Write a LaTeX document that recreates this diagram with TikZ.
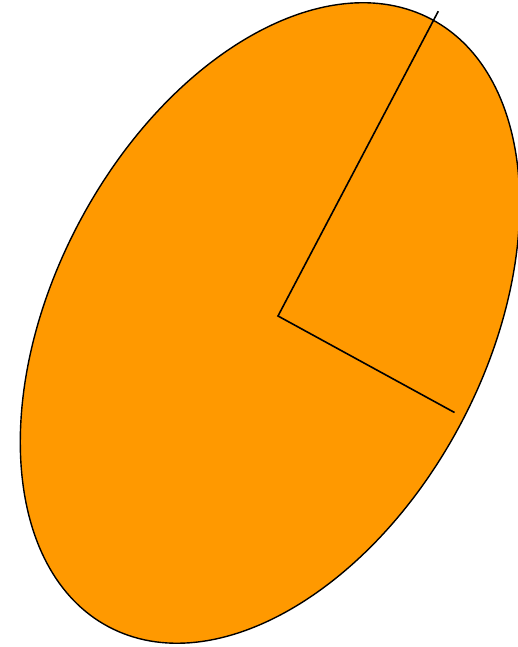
\documentclass[tikz,border=0pt]{standalone}
\usepackage{tikz}
\definecolor{slice}{HTML}{FF9900}
\definecolor{edge} {HTML}{000000}

\begin{document}
\begin{tikzpicture}[x=1pt, y=1pt,
    blob/.style={draw=edge, fill=slice, line width=1.4pt},
    spoke/.style={draw=edge, line width=1.6pt}]
      \useasboundingbox (0,0) rectangle (518,647);
      \coordinate (c) at (270,324);
      \coordinate (o) at (278,331);
      \coordinate (u) at (438.3,635.8);
      \coordinate (v) at (454.5,234.5);
      \draw[blob, rotate around={62:(c)}] (c) ellipse [x radius=344pt, y radius=215.7pt];
      \draw[spoke] (u) -- (o) -- (v);
    \end{tikzpicture}
\end{document}
